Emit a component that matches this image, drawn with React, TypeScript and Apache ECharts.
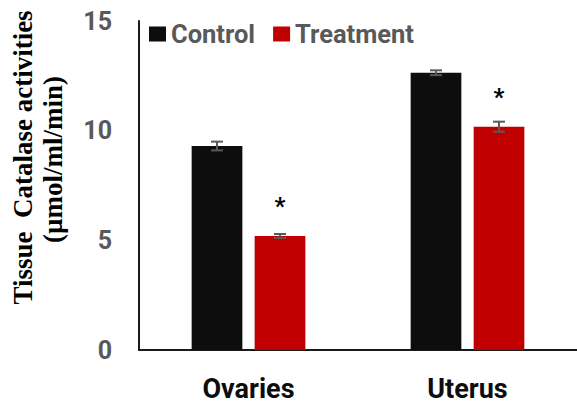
import React, { useEffect, useRef } from "react";
import * as echarts from "echarts";

const categories = ["Ovaries", "Uterus"];
const seriesNames = ["Control", "Treatment"];
const controlValues = [9.3, 12.64];
const treatmentValues = [5.2, 10.18];
const controlErrors = [0.2, 0.11];
const treatmentErrors = [0.09, 0.23];
const significance = ["*", "*"];
const yTicks = { min: 0, max: 15, interval: 5 };
const titleLines = ["Tissue  Catalase activities", "(µmol/ml/min)"];

const BAR_W = 50.7;
const BAR_GAP = 12.3;

function errorSeries(values: number[], errs: number[], side: number) {
  return {
    type: "custom",
    z: 5,
    data: values.map((v, i) => [i, v - errs[i], v + errs[i]]),
    renderItem: (params: any, api: any) => {
      const idx = api.value(0);
      const lo = api.coord([idx, api.value(1)]);
      const hi = api.coord([idx, api.value(2)]);
      const x = lo[0] + (side * (BAR_W + BAR_GAP)) / 2;
      const cap = 6;
      const style = { stroke: "#595959", lineWidth: 2 };
      return {
        type: "group",
        children: [
          { type: "line", shape: { x1: x, y1: lo[1], x2: x, y2: hi[1] }, style },
          { type: "line", shape: { x1: x - cap, y1: lo[1], x2: x + cap, y2: lo[1] }, style },
          { type: "line", shape: { x1: x - cap, y1: hi[1], x2: x + cap, y2: hi[1] }, style },
        ],
      };
    },
  };
}

export default function App() {
  const ref = useRef<HTMLDivElement>(null);
  useEffect(() => {
    if (!ref.current) return;
    const chart = echarts.init(ref.current, undefined, { renderer: "svg" });
    const titleStyle = {
      fontFamily: "Liberation Serif",
      fontWeight: "bold",
      fontSize: 27,
      fill: "#000",
      align: "center",
      verticalAlign: "middle",
    };
    chart.setOption({
      animation: false,
      backgroundColor: "#ffffff",
      grid: { left: 139, right: -6.6, top: 21, bottom: 57, containLabel: false },
      legend: {
        data: seriesNames,
        left: 149,
        top: 21,
        padding: 0,
        icon: "rect",
        itemWidth: 17,
        itemHeight: 15,
        itemGap: 18,
        textStyle: { fontFamily: "Roboto", fontWeight: "bold", fontSize: 25.5, color: "#595959" },
      },
      xAxis: {
        type: "category",
        data: categories,
        axisLine: { show: true, lineStyle: { color: "#1a1a1a", width: 2 } },
        axisTick: { show: false },
        axisLabel: { margin: 25, fontFamily: "Roboto", fontWeight: "bold", fontSize: 27, lineHeight: 27, color: "#0d0d0d" },
      },
      yAxis: {
        type: "value",
        min: yTicks.min,
        max: yTicks.max,
        interval: yTicks.interval,
        splitLine: { show: false },
        axisLine: { show: true, lineStyle: { color: "#1a1a1a", width: 2 } },
        axisTick: { show: false },
        axisLabel: { margin: 27, fontFamily: "Roboto", fontWeight: "bold", fontSize: 25, color: "#595959" },
      },
      graphic: [
        {
          type: "text",
          x: 23,
          y: 157.5,
          rotation: Math.PI / 2,
          style: { ...titleStyle, text: titleLines[0] },
        },
        {
          type: "text",
          x: 53,
          y: 159.5,
          rotation: Math.PI / 2,
          style: { ...titleStyle, text: titleLines[1] },
        },
      ],
      series: [
        {
          name: seriesNames[0],
          type: "bar",
          data: controlValues,
          barWidth: BAR_W,
          barGap: (BAR_GAP / BAR_W) * 100 + "%",
          itemStyle: { color: "#0d0d0d" },
        },
        {
          name: seriesNames[1],
          type: "bar",
          data: treatmentValues,
          barWidth: BAR_W,
          barGap: (BAR_GAP / BAR_W) * 100 + "%",
          itemStyle: { color: "#c00000" },
          label: {
            show: true,
            position: "top",
            distance: 18,
            formatter: (p: any) => significance[p.dataIndex],
            fontFamily: "Roboto",
            fontWeight: "bold",
            fontSize: 24,
            color: "#000",
          },
        },
        errorSeries(controlValues, controlErrors, -1),
        errorSeries(treatmentValues, treatmentErrors, 1),
      ],
    });
    return () => chart.dispose();
  }, []);
  return (
    <div
      ref={ref}
      style={{ position: "fixed", left: 0, top: 0, width: 577, height: 407 }}
    />
  );
}
